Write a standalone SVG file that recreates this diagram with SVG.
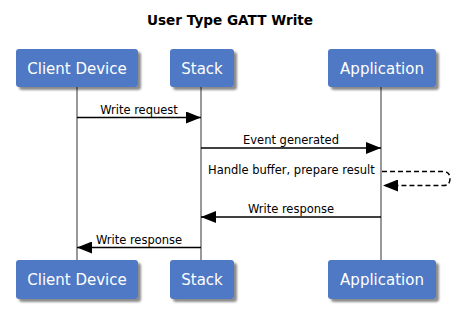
<svg xmlns="http://www.w3.org/2000/svg" width="460" height="324" viewBox="0 0 460 324">
<style>
.title{font-family:"DejaVu Sans",Verdana,sans-serif;font-weight:bold;font-size:13.6px;fill:#000;text-anchor:middle}
.box{fill:#5079C5;filter:url(#sh)}
.bl{font-family:"DejaVu Sans",Verdana,sans-serif;font-size:15px;fill:#fff;text-anchor:middle}
.life{stroke:#999;stroke-width:2;fill:none}
.msg{stroke:#000;stroke-width:1.5;fill:none}
.dash{stroke:#000;stroke-width:1.5;fill:none;stroke-dasharray:5 3}
.ml{font-family:"DejaVu Sans",Verdana,sans-serif;font-size:11.5px;fill:#000;text-anchor:middle}
</style>
<defs>
<filter id="sh" x="-20%" y="-30%" width="140%" height="170%">
<feDropShadow dx="3" dy="3" stdDeviation="1.2" flood-color="#000" flood-opacity="0.45"/>
</filter>
<marker id="ah" viewBox="0 0 15 12" refX="15" refY="6" markerWidth="15" markerHeight="12" markerUnits="userSpaceOnUse" orient="auto">
<path d="M0,0 L15,6 L0,12 Z" fill="#000"/>
</marker>
</defs>
<rect width="460" height="324" fill="#fff"/>
<text class="title" x="230" y="25">User Type GATT Write</text>
<g id="lifelines">
<line class="life" x1="77" y1="87" x2="77" y2="260"/>
<line class="life" x1="201" y1="87" x2="201" y2="260"/>
<line class="life" x1="381" y1="87" x2="381" y2="260"/>
</g>
<g id="client-top"><rect class="box" x="16" y="49" width="122" height="38" rx="3"/><text class="bl" x="77" y="74">Client Device</text></g>
<g id="stack-top"><rect class="box" x="170" y="49" width="64" height="38" rx="3"/><text class="bl" x="202" y="74">Stack</text></g>
<g id="app-top"><rect class="box" x="328" y="49" width="108" height="38" rx="3"/><text class="bl" x="382" y="74">Application</text></g>
<g id="client-bottom"><rect class="box" x="16" y="260" width="122" height="39" rx="3"/><text class="bl" x="77" y="285">Client Device</text></g>
<g id="stack-bottom"><rect class="box" x="170" y="260" width="64" height="39" rx="3"/><text class="bl" x="202" y="285">Stack</text></g>
<g id="app-bottom"><rect class="box" x="328" y="260" width="108" height="39" rx="3"/><text class="bl" x="382" y="285">Application</text></g>
<g id="connectors">
<line class="msg" x1="77" y1="117.5" x2="201" y2="117.5" marker-end="url(#ah)"/>
<text class="ml" x="139" y="114">Write request</text>
<line class="msg" x1="201" y1="148" x2="381" y2="148" marker-end="url(#ah)"/>
<text class="ml" x="291" y="144">Event generated</text>
<path class="dash" d="M382,171.5 L444,171.5 Q450,172 450,178.5 Q450,185.5 444,185.5 L383,185.5" marker-end="url(#ah)"/>
<text class="ml" x="208" y="174" style="text-anchor:start">Handle buffer, prepare result</text>
<line class="msg" x1="381" y1="217" x2="201" y2="217" marker-end="url(#ah)"/>
<text class="ml" x="291" y="213">Write response</text>
<line class="msg" x1="201" y1="247.5" x2="77" y2="247.5" marker-end="url(#ah)"/>
<text class="ml" x="139" y="243.5">Write response</text>
</g>
</svg>
